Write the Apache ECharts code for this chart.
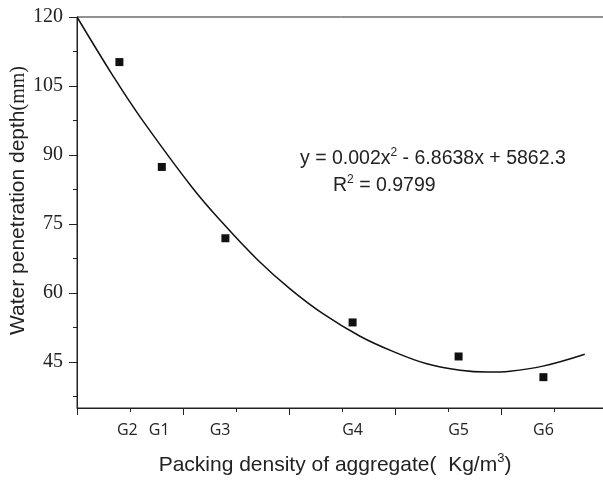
<!DOCTYPE html>
<html>
<head>
<meta charset="utf-8">
<script src="https://cdn.jsdelivr.net/npm/echarts@6.0.0/dist/echarts.min.js"></script>
<style>
html, body { margin: 0; padding: 0; background: #fff; }
#main { width: 603px; height: 480px; }
</style>
</head>
<body>
<div id="main"></div>
<script>
// 数据
var groupNames = ['G2', 'G1', 'G3', 'G4', 'G5', 'G6'];
var density = [1648, 1656, 1668, 1692, 1712, 1728];
var depth = [110.2, 87.4, 71.9, 53.6, 46.2, 41.7];
// label positions under the axis (slightly off the points, as in the figure)
var labelPos = [1649.5, 1655.5, 1667, 1692, 1712, 1728];
// trend curve
var fitX = [1640, 1646.9, 1651.9, 1661.7, 1667.5, 1674, 1680.2, 1686.4, 1693.4, 1699.6, 1706, 1712.3, 1717.4, 1721.7, 1727.9, 1735.8];
var fitY = [120, 107.0, 98.3, 83.0, 75.2, 67.3, 60.9, 55.5, 50.6, 47.3, 44.6, 43.2, 42.8, 43.0, 44.1, 46.7];
var yTicks = [45, 60, 75, 90, 105, 120];
var yMinorTicks = [37.5, 52.5, 67.5, 82.5, 97.5, 112.5];

var myChart = echarts.init(document.getElementById('main'));

var axisColor = '#222';

option = {
	backgroundColor: '#fff',
	animation: false,
	grid: {
		left: 77,
		top: 17,
		right: -4,
		bottom: 72,
		show: true,
		borderColor: axisColor,
		borderWidth: 1,
		containLabel: false,
		outerBoundsMode: 'none'
	},
	xAxis: [{
			type: 'value',
			min: 1640,
			max: 1740,
			interval: 20,
			axisLine: { show: true, lineStyle: { color: axisColor, width: 1 } },
			axisTick: { show: true, inside: false, length: 7, lineStyle: { color: axisColor } },
			minorTick: { show: true, splitNumber: 2, length: 4, lineStyle: { color: axisColor } },
			axisLabel: { show: false },
			splitLine: { show: false }
		},
		{
			type: 'value',
			position: 'bottom',
			min: 1640,
			max: 1740,
			axisLine: { show: false },
			axisTick: { show: false },
			splitLine: { show: false },
			axisLabel: {
				show: true,
				customValues: labelPos,
				margin: 14,
				color: '#222',
				fontSize: 16,
				fontFamily: 'Open Sans',
				formatter: function (v) {
					var i = labelPos.indexOf(v);
					return i >= 0 ? groupNames[i] : '';
				}
			},
			name: '{t|Packing density of aggregate(  Kg/m}{s|3}{t|)}',
			nameLocation: 'middle',
			nameGap: 44,
			nameTextStyle: {
				padding: [0, 14, 0, 0],
				rich: {
					t: { fontSize: 21, fontFamily: 'Liberation Sans', color: '#222' },
					s: { fontSize: 13, fontFamily: 'Liberation Sans', color: '#222', padding: [0, 0, 14, 0] }
				}
			}
		}
	],
	yAxis: [{
			type: 'value',
			min: 35,
			max: 120,
			axisLine: { show: true, lineStyle: { color: axisColor, width: 1 } },
			axisTick: { show: true, inside: false, length: 8, customValues: yTicks, lineStyle: { color: axisColor } },
			axisLabel: {
				show: true,
				customValues: yTicks,
				margin: 14,
				color: '#222',
				fontSize: 20,
				fontFamily: 'Liberation Serif'
			},
			splitLine: { show: false },
			name: '{t|Water penetration depth}{m|(mm)}',
			nameLocation: 'middle',
			nameGap: 48,
			nameMoveOverlap: false,
			nameTextStyle: {
				padding: [0, 0, 0, 24],
				rich: {
					t: { fontSize: 21, fontFamily: 'Liberation Sans', color: '#222' },
					m: { fontSize: 20, fontFamily: 'Liberation Serif', color: '#222' }
				}
			}
		},
		{
			type: 'value',
			position: 'left',
			min: 35,
			max: 120,
			axisLine: { show: false },
			axisTick: { show: true, inside: false, length: 4, customValues: yMinorTicks, lineStyle: { color: axisColor } },
			axisLabel: { show: false },
			splitLine: { show: false }
		}
	],
	graphic: [{
		type: 'text',
		left: 300,
		top: 147,
		style: {
			text: '{t|y = 0.002x}{s|2}{t| - 6.8638x + 5862.3}\n{i|}{t|R}{s|2}{t| = 0.9799}',
			rich: {
				t: { fontSize: 19.5, fontFamily: 'Liberation Sans', fill: '#222', lineHeight: 27 },
				s: { fontSize: 12, fontFamily: 'Liberation Sans', fill: '#222', padding: [0, 0, 12, 0], lineHeight: 27 },
				i: { width: 33 }
			}
		}
	}],
	series: [{
			name: 'fit',
			type: 'line',
			xAxisIndex: 0,
			yAxisIndex: 0,
			data: fitX.map(function (x, i) { return [x, fitY[i]]; }),
			smooth: 0.4,
			showSymbol: false,
			symbol: 'none',
			clip: false,
			lineStyle: { color: '#111', width: 1.5 },
			z: 2
		},
		{
			name: 'measured',
			type: 'scatter',
			xAxisIndex: 0,
			yAxisIndex: 0,
			data: density.map(function (x, i) { return [x, depth[i]]; }),
			symbol: 'rect',
			symbolSize: 8,
			itemStyle: { color: '#111', opacity: 1 },
			z: 3
		}
	]
};

myChart.setOption(option);
</script>
</body>
</html>
